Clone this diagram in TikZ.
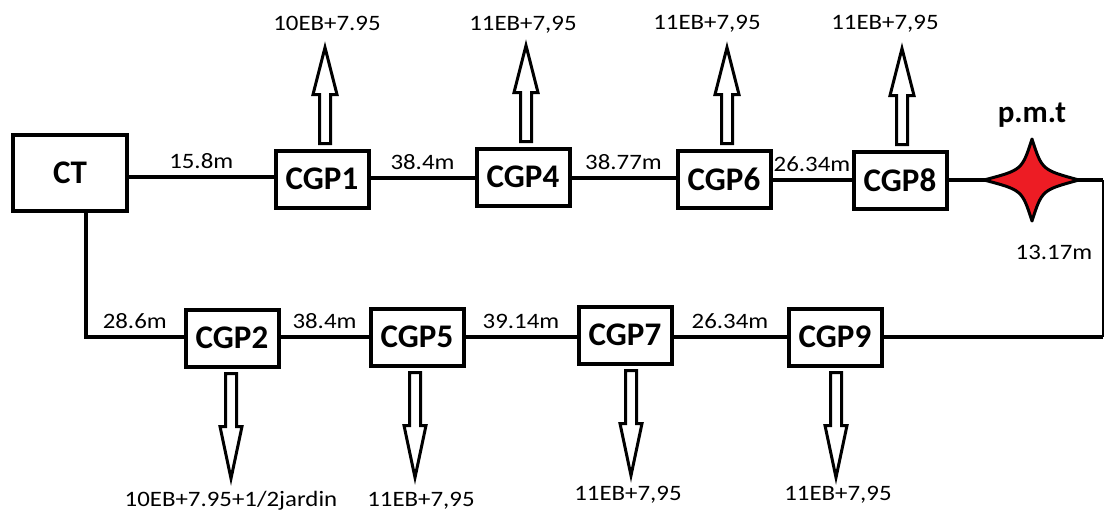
\documentclass[tikz,border=0pt]{standalone}
\usepackage{fontspec}
\setmainfont{Carlito}
\newfontfamily\lblfont{Carlito}[FakeStretch=1.13]
\usetikzlibrary{calc}

\definecolor{pmtred}{RGB}{237,28,36}

\tikzset{
  box/.style={draw, line width=4pt, minimum width=93, minimum height=57,
    inner sep=0pt, font=\fontsize{33}{38}\selectfont\bfseries},
  wire/.style={line width=4pt},
  dist/.style={font=\lblfont\fontsize{22}{26}\selectfont, inner sep=0pt, above=6pt},
  load/.style={font=\lblfont\fontsize{22}{26}\selectfont, inner sep=0pt, anchor=base},
  hollow/.style={draw, line width=3pt, fill=white, line join=miter},
}

\begin{document}
\begin{tikzpicture}[x=1pt, y=-1pt]
  \useasboundingbox (0,0) rectangle (1104,515);

  % boxes
  \node[box, minimum width=114, minimum height=76] (ct) at (70,173) {CT};
  \node[box] (cgp1) at (322,179) {CGP1};
  \node[box] (cgp4) at (523,177) {CGP4};
  \node[box] (cgp6) at (724,179) {CGP6};
  \node[box] (cgp8) at (900,180) {CGP8};
  \node[box] (cgp2) at (232,338) {CGP2};
  \node[box] (cgp5) at (417,337) {CGP5};
  \node[box] (cgp7) at (625,335) {CGP7};
  \node[box] (cgp9) at (835,337) {CGP9};

  \coordinate (pmt) at (1032,180);
  \coordinate (ne) at (1103,180);
  \coordinate (se) at (1103,337);

  % upper line
  \draw[wire] (ct.east |- 0,177) -- node[dist]{15.8m} (cgp1.west |- 0,177);
  \draw[wire] (cgp1.east |- 0,178) -- node[dist]{38.4m} (cgp4.west |- 0,178);
  \draw[wire] (cgp4.east |- 0,178) -- node[dist]{38.77m} (cgp6.west |- 0,178);
  \draw[wire] (cgp6.east |- 0,180) -- node[dist]{26.34m} (cgp8.west |- 0,180);
  \draw[wire] (cgp8.east |- pmt) -- (ne);
  \draw[line width=1.5pt] (ne) -- node[pos=0.46, left=10pt, inner sep=0pt,
    font=\lblfont\fontsize{22}{26}\selectfont]{13.17m} (se);

  % lower line
  \draw[wire] ([xshift=16]ct.south) |- node[dist, pos=0.75]{28.6m} (cgp2.west |- se);
  \draw[wire] (cgp2.east |- se) -- node[dist]{38.4m} (cgp5.west |- se);
  \draw[wire] (cgp5.east |- se) -- node[dist]{39.14m} (cgp7.west |- se);
  \draw[wire] (cgp7.east |- se) -- node[dist]{26.34m} (cgp9.west |- se);
  \draw[wire] (se) -- (cgp9.east |- se);

  % star
  \draw[line width=3pt, fill=pmtred, line join=round, shift={(pmt)}]
    (0,-41) .. controls (10,-10) .. (47,0) .. controls (10,10) .. (0,41)
    .. controls (-10,10) .. (-48,0) .. controls (-10,-10) .. (0,-41) -- cycle;
  \node[font=\fontsize{31}{36}\selectfont\bfseries, inner sep=0pt, anchor=base]
    (pmtlbl) at (1032,122) {p.m.t};

  % hollow arrows
  \foreach \n/\dx in {cgp1/3, cgp4/3, cgp6/3, cgp8/2}{
    \draw[hollow, shift={([xshift=\dx]\n.north)}]
      (-5.5,-5) -- (-5.5,-54) -- (-12,-54) -- (0,-101) -- (12,-54)
      -- (5.5,-54) -- (5.5,-5) -- cycle;
  }
  \foreach \n/\dx in {cgp2/-1, cgp5/-2, cgp7/6, cgp9/1}{
    \draw[hollow, shift={([xshift=\dx]\n.south)}]
      (-5.5,5) -- (-5.5,58) -- (-11,58) -- (0,110) -- (11,58)
      -- (5.5,58) -- (5.5,5) -- cycle;
  }

  % loads
  \node[load] (l1) at (327,30) {10EB+7.95};
  \node[load] (l4) at (523,30) {11EB+7,95};
  \node[load] (l6) at (707,29) {11EB+7,95};
  \node[load] (l8) at (885,29) {11EB+7,95};
  \node[load] (l2) at (231,506) {10EB+7.95+1/2jardin};
  \node[load] (l5) at (421,506) {11EB+7,95};
  \node[load] (l7) at (628,500) {11EB+7,95};
  \node[load] (l9) at (838,500) {11EB+7,95};
\end{tikzpicture}
\end{document}
